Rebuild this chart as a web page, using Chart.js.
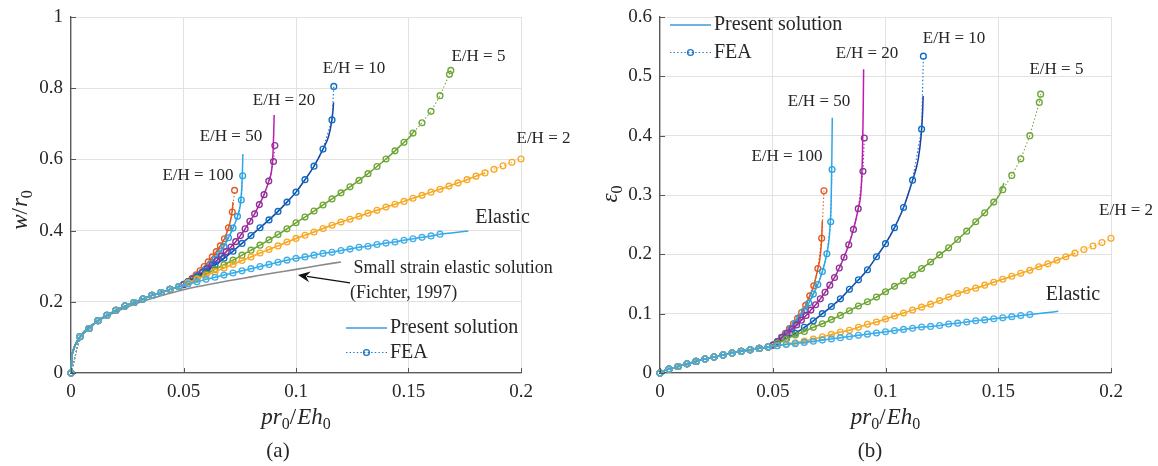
<!DOCTYPE html>
<html>
<head>
<meta charset="utf-8">
<script src="https://cdn.jsdelivr.net/npm/chart.js@4.4.1/dist/chart.umd.min.js"></script>
<style>
  html, body { margin:0; padding:0; background:#ffffff; }
  body { width:1158px; height:466px; position:relative; overflow:hidden; }
  .panel { position:absolute; top:0; width:579px; height:466px; }
</style>
</head>
<body>
<div class="panel" style="left:0"><canvas id="chartA" width="579" height="466"></canvas></div>
<div class="panel" style="left:579px"><canvas id="chartB" width="579" height="466"></canvas></div>
<script>
// ================= DATA =================
const xTickValues = [0, 0.05, 0.1, 0.15, 0.2];
const xTickLabels = ['0', '0.05', '0.1', '0.15', '0.2'];
const yTickValuesA = [0, 0.2, 0.4, 0.6, 0.8, 1];
const yTickLabelsA = ['0', '0.2', '0.4', '0.6', '0.8', '1'];
const yTickValuesB = [0, 0.1, 0.2, 0.3, 0.4, 0.5, 0.6];
const yTickLabelsB = ['0', '0.1', '0.2', '0.3', '0.4', '0.5', '0.6'];

const caseLabels = ['E/H = 100', 'E/H = 50', 'E/H = 20', 'E/H = 10', 'E/H = 5', 'E/H = 2', 'Elastic'];

// common branch (all cases coincide before yield)
const xCommon   = [0, 0.004, 0.008, 0.012, 0.016, 0.02, 0.024, 0.028, 0.032, 0.036, 0.04, 0.044, 0.048];
const wCommon   = [0, 0.102, 0.125, 0.147, 0.162, 0.176, 0.188, 0.198, 0.208, 0.218, 0.226, 0.235, 0.243];
const epsCommon = [0, 0.0065, 0.011, 0.0155, 0.0195, 0.0235, 0.027, 0.0305, 0.0335, 0.0365, 0.039, 0.0415, 0.044];
// present solution close to the origin
const xStart   = [0, 0.0003, 0.001, 0.002, 0.003];
const wStart   = [0, 0.04, 0.063, 0.08, 0.092];
const epsStart = [0, 0.0012, 0.0026, 0.0041, 0.0054];

// E/H = 100
const xFea100   = [0.0502, 0.052, 0.0538, 0.0556, 0.0574, 0.0592, 0.061, 0.0628, 0.0646, 0.0664, 0.0682, 0.07, 0.0717, 0.0727];
const wFea100   = [0.249, 0.257, 0.266, 0.276, 0.287, 0.299, 0.312, 0.326, 0.341, 0.357, 0.377, 0.408, 0.452, 0.513];
const epsFea100 = [0.047, 0.053, 0.06, 0.067, 0.075, 0.083, 0.092, 0.102, 0.114, 0.13, 0.147, 0.176, 0.227, 0.307];
const xSol100   = [0.0708, 0.0714, 0.0718, 0.072];
const wSol100   = [0.425, 0.445, 0.465, 0.48];
const epsSol100 = [0.19, 0.21, 0.235, 0.257];

// E/H = 50
const xFea50   = [0.05, 0.052, 0.054, 0.056, 0.058, 0.06, 0.062, 0.064, 0.066, 0.068, 0.07, 0.072, 0.074, 0.0757, 0.0763];
const wFea50   = [0.249, 0.256, 0.264, 0.273, 0.282, 0.293, 0.305, 0.319, 0.335, 0.355, 0.38, 0.407, 0.44, 0.486, 0.554];
const epsFea50 = [0.047, 0.053, 0.06, 0.067, 0.075, 0.084, 0.094, 0.105, 0.118, 0.133, 0.149, 0.171, 0.201, 0.255, 0.343];
const xSol50   = [0.0752, 0.0759, 0.0762, 0.0764];
const wSol50   = [0.47, 0.52, 0.57, 0.615];
const epsSol50 = [0.235, 0.29, 0.36, 0.43];

// E/H = 20
const xFea20   = [0.0501, 0.0522, 0.0543, 0.0564, 0.0585, 0.0606, 0.0627, 0.0648, 0.0669, 0.069, 0.0711, 0.0732, 0.0753, 0.0774, 0.0795, 0.0816, 0.0837, 0.0858, 0.0879, 0.09, 0.0906];
const wFea20   = [0.248, 0.256, 0.264, 0.273, 0.283, 0.293, 0.304, 0.316, 0.328, 0.341, 0.354, 0.369, 0.386, 0.405, 0.426, 0.447, 0.473, 0.501, 0.539, 0.594, 0.639];
const epsFea20 = [0.047, 0.053, 0.06, 0.067, 0.074, 0.081, 0.089, 0.097, 0.106, 0.115, 0.125, 0.136, 0.148, 0.161, 0.177, 0.195, 0.216, 0.242, 0.277, 0.34, 0.396];
const xSol20   = [0.0892, 0.0898, 0.0901, 0.0903];
const wSol20   = [0.57, 0.62, 0.675, 0.725];
const epsSol20 = [0.31, 0.37, 0.44, 0.512];

// E/H = 10
const xFea10   = [0.052, 0.056, 0.06, 0.064, 0.068, 0.072, 0.076, 0.08, 0.084, 0.088, 0.092, 0.096, 0.1, 0.104, 0.108, 0.112, 0.116, 0.1168];
const wFea10   = [0.256, 0.27, 0.286, 0.303, 0.322, 0.342, 0.364, 0.386, 0.408, 0.43, 0.454, 0.48, 0.508, 0.543, 0.581, 0.629, 0.711, 0.805];
const epsFea10 = [0.05, 0.058, 0.067, 0.077, 0.088, 0.1, 0.112, 0.125, 0.141, 0.157, 0.174, 0.196, 0.218, 0.245, 0.279, 0.325, 0.411, 0.534];
const xSol10   = [0.1145, 0.1158, 0.1164, 0.1167];
const wSol10   = [0.665, 0.705, 0.735, 0.76];
const epsSol10 = [0.36, 0.4, 0.435, 0.467];

// E/H = 5
const xFea5   = [0.052, 0.056, 0.06, 0.064, 0.068, 0.072, 0.076, 0.08, 0.084, 0.088, 0.092, 0.096, 0.1, 0.104, 0.108, 0.112, 0.116, 0.12, 0.124, 0.128, 0.132, 0.136, 0.14, 0.144, 0.148, 0.152, 0.156, 0.16, 0.164, 0.1682, 0.1688];
const wFea5   = [0.254, 0.266, 0.278, 0.291, 0.304, 0.317, 0.331, 0.345, 0.359, 0.374, 0.389, 0.405, 0.422, 0.438, 0.455, 0.472, 0.489, 0.506, 0.523, 0.541, 0.56, 0.58, 0.601, 0.624, 0.648, 0.674, 0.703, 0.735, 0.779, 0.839, 0.85];
const epsFea5 = [0.05, 0.057, 0.064, 0.07, 0.077, 0.083, 0.09, 0.097, 0.105, 0.113, 0.12, 0.128, 0.137, 0.146, 0.155, 0.165, 0.176, 0.187, 0.199, 0.211, 0.225, 0.239, 0.255, 0.27, 0.288, 0.309, 0.333, 0.361, 0.4, 0.456, 0.47];
const xSol5   = [0.1505, 0.1525];
const wSol5   = [0.662, 0.68];
const epsSol5 = [0.3, 0.32];

// E/H = 2
const xFea2   = [0.052, 0.056, 0.06, 0.064, 0.068, 0.072, 0.076, 0.08, 0.084, 0.088, 0.092, 0.096, 0.1, 0.104, 0.108, 0.112, 0.116, 0.12, 0.124, 0.128, 0.132, 0.136, 0.14, 0.144, 0.148, 0.152, 0.156, 0.16, 0.164, 0.168, 0.172, 0.176, 0.18, 0.184, 0.188, 0.192, 0.196, 0.2];
const wFea2   = [0.253, 0.263, 0.274, 0.284, 0.295, 0.305, 0.316, 0.326, 0.337, 0.347, 0.357, 0.368, 0.378, 0.387, 0.396, 0.406, 0.415, 0.424, 0.432, 0.44, 0.449, 0.457, 0.466, 0.474, 0.482, 0.491, 0.499, 0.508, 0.516, 0.525, 0.534, 0.543, 0.553, 0.562, 0.572, 0.582, 0.592, 0.601];
const epsFea2 = [0.046, 0.049, 0.051, 0.054, 0.057, 0.061, 0.065, 0.069, 0.072, 0.077, 0.082, 0.086, 0.091, 0.096, 0.101, 0.106, 0.111, 0.116, 0.122, 0.128, 0.134, 0.139, 0.143, 0.148, 0.153, 0.158, 0.163, 0.168, 0.173, 0.179, 0.184, 0.19, 0.196, 0.202, 0.208, 0.214, 0.22, 0.227];
const xSol2   = [];
const wSol2   = [];
const epsSol2 = [];

// Elastic
const xFeaEl   = [0.052, 0.056, 0.06, 0.064, 0.068, 0.072, 0.076, 0.08, 0.084, 0.088, 0.092, 0.096, 0.1, 0.104, 0.108, 0.112, 0.116, 0.12, 0.124, 0.128, 0.132, 0.136, 0.14, 0.144, 0.148, 0.152, 0.156, 0.16, 0.164];
const wFeaEl   = [0.25, 0.256, 0.263, 0.269, 0.275, 0.281, 0.287, 0.293, 0.299, 0.305, 0.311, 0.317, 0.322, 0.326, 0.331, 0.336, 0.339, 0.344, 0.348, 0.353, 0.356, 0.361, 0.365, 0.368, 0.373, 0.377, 0.381, 0.385, 0.39];
const epsFeaEl = [0.046, 0.048, 0.0495, 0.0515, 0.0535, 0.0555, 0.0575, 0.0595, 0.0615, 0.0635, 0.0655, 0.0675, 0.0695, 0.0715, 0.0735, 0.0755, 0.0775, 0.0785, 0.08, 0.0825, 0.084, 0.086, 0.088, 0.0895, 0.0915, 0.093, 0.095, 0.0968, 0.0985];
const xSolEl   = [0.17, 0.1766];
const wSolEl   = [0.394, 0.399];
const epsSolEl = [0.101, 0.104];

// last FEA abscissa that the present solution still follows
const solutionCut = [0.07, 0.074, 0.0879, 0.112, 0.148, 0.184, 0.164];

// Small strain elastic solution (Fichter, 1997)
const xFichter = [0, 0.0003, 0.001, 0.002, 0.004, 0.008, 0.012, 0.016, 0.02, 0.03, 0.04, 0.05, 0.06, 0.07, 0.08, 0.09, 0.1, 0.11, 0.12];
const wFichter = [0, 0.043, 0.065, 0.082, 0.103, 0.13, 0.146, 0.16, 0.172, 0.197, 0.217, 0.234, 0.247, 0.259, 0.27, 0.281, 0.291, 0.302, 0.312];

// ================= STYLE =================
const lineColors   = ['#E5561B', '#2DA8E6', '#C21AB1', '#1D3C9E', '#6EA636', '#F7A51F', '#2FA9E9'];
const markerColors = ['#E05A20', '#26A2E4', '#8E3393', '#0B6EC4', '#6EA636', '#F8AA25', '#40AFE8'];
const FONT = '"Liberation Serif", "Times New Roman", serif';
const TXT = '#262626';

const pts = (xs, ys) => xs.map((x, i) => ({ x: x, y: ys[i] }));

const caseX   = [xFea100, xFea50, xFea20, xFea10, xFea5, xFea2, xFeaEl];
const caseW   = [wFea100, wFea50, wFea20, wFea10, wFea5, wFea2, wFeaEl];
const caseE   = [epsFea100, epsFea50, epsFea20, epsFea10, epsFea5, epsFea2, epsFeaEl];
const solX    = [xSol100, xSol50, xSol20, xSol10, xSol5, xSol2, xSolEl];
const solW    = [wSol100, wSol50, wSol20, wSol10, wSol5, wSol2, wSolEl];
const solE    = [epsSol100, epsSol50, epsSol20, epsSol10, epsSol5, epsSol2, epsSolEl];

function buildDatasets(panel) {
  const common = panel === 'a' ? wCommon : epsCommon;
  const start = panel === 'a' ? wStart : epsStart;
  const cy = panel === 'a' ? caseW : caseE;
  const sy = panel === 'a' ? solW : solE;
  const seq = [];
  if (panel === 'a') {
    seq.push({ data: pts(xFichter, wFichter), showLine: true, borderColor: '#8A8A8A', borderWidth: 1.6,
      pointRadius: 0, cubicInterpolationMode: 'monotone', clip: false });
  }
  for (let k = 0; k < 7; k++) {
    const fea = pts(xCommon, common).concat(pts(caseX[k], cy[k]));
    const solid = pts(xStart, start)
      .concat(pts(xCommon.slice(1), common.slice(1)))
      .concat(pts(caseX[k], cy[k]).filter(p => p.x <= solutionCut[k] + 1e-9))
      .concat(pts(solX[k], sy[k]));
    seq.push({ data: solid, showLine: true, borderColor: lineColors[k], borderWidth: 1.5,
      pointRadius: 0, cubicInterpolationMode: 'monotone', clip: false });
    seq.push({ data: fea, showLine: true, borderColor: markerColors[k], borderWidth: 1.1,
      borderDash: [1.4, 2.2], pointRadius: 2.9, pointBorderWidth: 1.35, pointStyle: 'circle',
      pointBorderColor: markerColors[k], pointBackgroundColor: 'rgba(255,255,255,0)', tension: 0, clip: false });
  }
  return seq.reverse(); // Chart.js draws index 0 last (on top)
}

function drawParts(ctx, parts, cx, baseline, size) {
  const subSize = Math.round(size * 0.7);
  const fontOf = p => p.sub ? `${subSize}px ${FONT}` : (p.it ? `italic ${size}px ${FONT}` : `${size}px ${FONT}`);
  let total = 0;
  parts.forEach(p => { ctx.font = fontOf(p); p.w = ctx.measureText(p.t).width + (p.gap || 0); total += p.w; });
  let xx = cx - total / 2;
  ctx.textAlign = 'left';
  ctx.textBaseline = 'alphabetic';
  parts.forEach(p => {
    ctx.font = fontOf(p);
    ctx.fillText(p.t, xx, baseline + (p.sub ? size * 0.22 : 0));
    xx += p.w;
  });
}

function makeChart(canvasId, cfg) {
  const annot = {
    id: 'annot_' + canvasId,
    afterDraw(chart) {
      const { ctx, chartArea: ca } = chart;
      const sx = chart.scales.x, sy = chart.scales.y;
      ctx.save();
      // inward tick marks
      ctx.strokeStyle = '#555';
      ctx.lineWidth = 1;
      xTickValues.forEach(v => {
        const px = Math.round(sx.getPixelForValue(v)) + 0.5;
        ctx.beginPath(); ctx.moveTo(px, ca.bottom); ctx.lineTo(px, ca.bottom - 5); ctx.stroke();
      });
      cfg.yTicks.forEach(v => {
        const py = Math.round(sy.getPixelForValue(v)) + 0.5;
        ctx.beginPath(); ctx.moveTo(ca.left, py); ctx.lineTo(ca.left + 5, py); ctx.stroke();
      });
      // text labels
      ctx.fillStyle = TXT;
      ctx.textBaseline = 'middle';
      cfg.labels.forEach(l => {
        ctx.font = `${l.size || 17}px ${FONT}`;
        ctx.textAlign = l.align || 'center';
        ctx.fillText(l.t, sx.getPixelForValue(l.x), sy.getPixelForValue(l.y));
      });
      // arrow
      if (cfg.arrow) {
        const a = cfg.arrow;
        const x1 = sx.getPixelForValue(a.x1), y1 = sy.getPixelForValue(a.y1);
        const x2 = sx.getPixelForValue(a.x2), y2 = sy.getPixelForValue(a.y2);
        const ang = Math.atan2(y2 - y1, x2 - x1);
        const L = 12, W = 5.5;
        ctx.strokeStyle = '#111'; ctx.fillStyle = '#111'; ctx.lineWidth = 1.3;
        ctx.beginPath(); ctx.moveTo(x1, y1);
        ctx.lineTo(x2 - (L - 3) * Math.cos(ang), y2 - (L - 3) * Math.sin(ang)); ctx.stroke();
        const bx = x2 - L * Math.cos(ang), by = y2 - L * Math.sin(ang);
        const nx = -Math.sin(ang), ny = Math.cos(ang);
        const mx = x2 - (L - 4) * Math.cos(ang), my = y2 - (L - 4) * Math.sin(ang);
        ctx.beginPath();
        ctx.moveTo(x2, y2);
        ctx.lineTo(bx + nx * W, by + ny * W);
        ctx.lineTo(mx, my);
        ctx.lineTo(bx - nx * W, by - ny * W);
        ctx.closePath(); ctx.fill();
      }
      // legend
      const lg = cfg.legend;
      ctx.lineWidth = 1.5; ctx.strokeStyle = '#3A9BE0'; ctx.setLineDash([]);
      ctx.beginPath(); ctx.moveTo(lg.x, lg.y1); ctx.lineTo(lg.x + 41, lg.y1); ctx.stroke();
      ctx.lineWidth = 1.1; ctx.strokeStyle = '#1C74CC'; ctx.setLineDash([1.4, 2.2]);
      ctx.beginPath(); ctx.moveTo(lg.x, lg.y2); ctx.lineTo(lg.x + 41, lg.y2); ctx.stroke();
      ctx.setLineDash([]); ctx.lineWidth = 1.35;
      ctx.beginPath(); ctx.arc(lg.x + 20.5, lg.y2, 2.9, 0, Math.PI * 2); ctx.stroke();
      ctx.fillStyle = TXT; ctx.font = `20px ${FONT}`; ctx.textAlign = 'left'; ctx.textBaseline = 'middle';
      ctx.fillText('Present solution', lg.x + 44, lg.y1);
      ctx.fillText('FEA', lg.x + 44, lg.y2);
      // axis titles
      ctx.fillStyle = TXT;
      drawParts(ctx, [{ t: 'pr', it: true }, { t: '0', sub: true }, { t: '/', gap: 1 }, { t: 'Eh', it: true }, { t: '0', sub: true }],
        (ca.left + ca.right) / 2, cfg.xTitleBase, 23);
      ctx.save();
      ctx.translate(cfg.yTitleX, cfg.yTitleY);
      ctx.rotate(-Math.PI / 2);
      drawParts(ctx, cfg.yTitleParts, 0, 0, 23);
      ctx.restore();
      // caption
      ctx.font = `21px ${FONT}`; ctx.textAlign = 'center'; ctx.textBaseline = 'middle';
      ctx.fillText(cfg.caption, cfg.captionX, 451);
      ctx.restore();
    }
  };

  return new Chart(document.getElementById(canvasId), {
    type: 'scatter',
    data: { datasets: cfg.datasets },
    options: {
      responsive: false, animation: false, devicePixelRatio: 1,
      layout: { padding: { left: 0, right: cfg.padRight, top: 17, bottom: 0 } },
      plugins: { legend: { display: false }, tooltip: { enabled: false } },
      elements: { line: { fill: false } },
      scales: {
        x: {
          type: 'linear', min: 0, max: 0.2,
          afterBuildTicks: s => { s.ticks = xTickValues.map(v => ({ value: v })); },
          afterFit: s => { s.height = 466 - 373; s.paddingLeft = 0; s.paddingRight = 0; },
          ticks: { font: { family: FONT, size: 19 }, color: TXT, padding: 8, maxRotation: 0, autoSkip: false,
                   callback: (v, i) => xTickLabels[i] },
          grid: { color: '#E2E2E2', lineWidth: 1, drawTicks: false },
          border: { display: true, color: '#5A5A5A', width: 1.3 }
        },
        y: {
          type: 'linear', min: 0, max: cfg.yMax,
          afterBuildTicks: s => { s.ticks = cfg.yTicks.map(v => ({ value: v })); },
          afterFit: s => { s.width = cfg.left; s.paddingTop = 0; s.paddingBottom = 0; },
          ticks: { font: { family: FONT, size: 19 }, color: TXT, padding: 8, autoSkip: false,
                   callback: (v, i) => cfg.yTickLabels[i] },
          grid: { color: '#E2E2E2', lineWidth: 1, drawTicks: false },
          border: { display: true, color: '#5A5A5A', width: 1.3 }
        }
      }
    },
    plugins: [annot]
  });
}

makeChart('chartA', {
  datasets: buildDatasets('a'),
  left: 71, padRight: 58, yMax: 1,
  yTicks: yTickValuesA, yTickLabels: yTickLabelsA,
  labels: [
    { t: caseLabels[0], x: 0.0564, y: 0.556 },
    { t: caseLabels[1], x: 0.0711, y: 0.663 },
    { t: caseLabels[2], x: 0.0947, y: 0.764 },
    { t: caseLabels[3], x: 0.1258, y: 0.854 },
    { t: caseLabels[4], x: 0.1811, y: 0.888 },
    { t: caseLabels[5], x: 0.2100, y: 0.660 },
    { t: caseLabels[6], x: 0.1918, y: 0.435, size: 20 },
    { t: 'Small strain elastic solution', x: 0.1255, y: 0.294, align: 'left', size: 18 },
    { t: '(Fichter, 1997)', x: 0.1240, y: 0.224, align: 'left', size: 18 }
  ],
  arrow: { x1: 0.1240, y1: 0.253, x2: 0.1009, y2: 0.275 },
  legend: { x: 346, y1: 328, y2: 352.5 },
  xTitleBase: 424,
  yTitleX: 27, yTitleY: 210,
  yTitleParts: [{ t: 'w', it: true }, { t: '/', gap: 1 }, { t: 'r', it: true }, { t: '0', sub: true }],
  caption: '(a)', captionX: 278
});

makeChart('chartB', {
  datasets: buildDatasets('b'),
  left: 81, padRight: 47, yMax: 0.6,
  yTicks: yTickValuesB, yTickLabels: yTickLabelsB,
  labels: [
    { t: caseLabels[0], x: 0.0563, y: 0.365 },
    { t: caseLabels[1], x: 0.0705, y: 0.457 },
    { t: caseLabels[2], x: 0.0918, y: 0.539 },
    { t: caseLabels[3], x: 0.1304, y: 0.564 },
    { t: caseLabels[4], x: 0.1758, y: 0.512 },
    { t: caseLabels[5], x: 0.2067, y: 0.273 },
    { t: caseLabels[6], x: 0.1831, y: 0.132, size: 20 }
  ],
  arrow: null,
  legend: { x: 91, y1: 25, y2: 52.5 },
  xTitleBase: 424,
  yTitleX: 38, yTitleY: 194,
  yTitleParts: [{ t: 'ε', it: true }, { t: '0', sub: true }],
  caption: '(b)', captionX: 291
});
</script>
</body>
</html>
